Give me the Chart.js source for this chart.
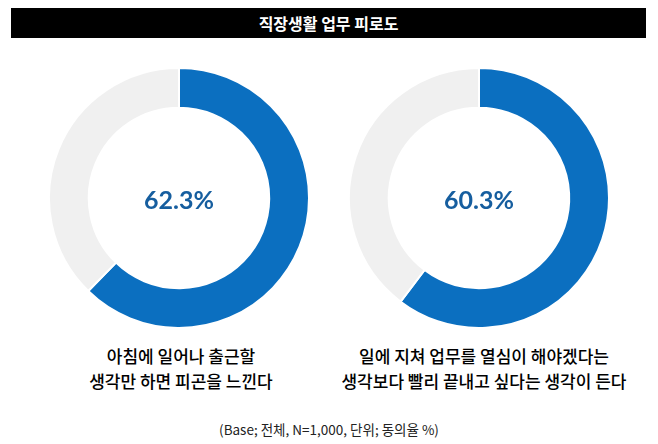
<!DOCTYPE html>
<html>
<head>
<meta charset="utf-8">
<script src="https://cdn.jsdelivr.net/npm/chart.js@4"></script>
<style>
  html, body { margin: 0; padding: 0; background: #fff; }
  body { width: 658px; height: 444px; position: relative; overflow: hidden;
         font-family: "Noto Sans CJK KR", "Noto Sans", sans-serif; }
  .titulo { position: absolute; left: 11px; top: 8px; width: 635px; height: 30px;
            background: #000; color: #fff; font-size: 16px; font-weight: bold;
            line-height: 30px; text-align: center; }
  .grafico { position: absolute; width: 270px; height: 270px; }
  .rotulo { position: absolute; width: 340px; text-align: center; font-size: 17px;
            font-weight: 500; line-height: 25px; color: #000; }
  .rodape { position: absolute; left: 0; width: 658px; top: 419px; text-align: center;
            font-size: 13.5px; color: #222; }
</style>
</head>
<body>
<div class="titulo" id="titulo"></div>
<div class="grafico" style="left:44px; top:63px;"><canvas id="g1" width="270" height="270"></canvas></div>
<div class="grafico" style="left:344px; top:63px;"><canvas id="g2" width="270" height="270"></canvas></div>
<div class="rotulo" id="r1" style="left:11px; top:343px;"></div>
<div class="rotulo" id="r2" style="left:314px; top:343px;"></div>
<div class="rodape" id="rodape"></div>
<script>
// dados
const titulo = '직장생활 업무 피로도';
const categorias = ['동의', '비동의'];
const valores1 = [62.3, 37.7];
const valores2 = [60.3, 39.7];
const rotulo1 = ['아침에 일어나 출근할', '생각만 하면 피곤을 느낀다'];
const rotulo2 = ['일에 지쳐 업무를 열심이 해야겠다는', '생각보다 빨리 끝내고 싶다는 생각이 든다'];
const rodape = '(Base; 전체, N=1,000, 단위; 동의율 %)';

const cores = ['#0b6fc0', '#f0f0f0'];

document.getElementById('titulo').textContent = titulo;
document.getElementById('r1').innerHTML = rotulo1.join('<br>');
document.getElementById('r2').innerHTML = rotulo2.join('<br>');
document.getElementById('rodape').textContent = rodape;

// texto no centro da rosca
const textoCentral = {
  id: 'textoCentral',
  afterDraw(chart) {
    const arco = chart.getDatasetMeta(0).data[0];
    const ctx = chart.ctx;
    ctx.save();
    ctx.font = 'bold 25px Lato, "Open Sans", sans-serif';
    ctx.fillStyle = '#165e9f';
    ctx.textAlign = 'center';
    ctx.textBaseline = 'middle';
    ctx.fillText(chart.data.datasets[0].data[0].toFixed(1) + '%', arco.x, arco.y + 3);
    ctx.restore();
  },
};

function criarRosca(id, valores) {
  new Chart(document.getElementById(id), {
    type: 'doughnut',
    data: {
      labels: categorias,
      datasets: [{
        data: valores,
        backgroundColor: cores,
        borderColor: '#ffffff',
        borderWidth: 2,
      }],
    },
    options: {
      responsive: false,
      animation: false,
      radius: 130,
      cutout: 93,
      layout: { padding: 0 },
      plugins: {
        legend: { display: false },
        tooltip: { enabled: false },
      },
    },
    plugins: [textoCentral],
  });
}

criarRosca('g1', valores1);
criarRosca('g2', valores2);
</script>
</body>
</html>
